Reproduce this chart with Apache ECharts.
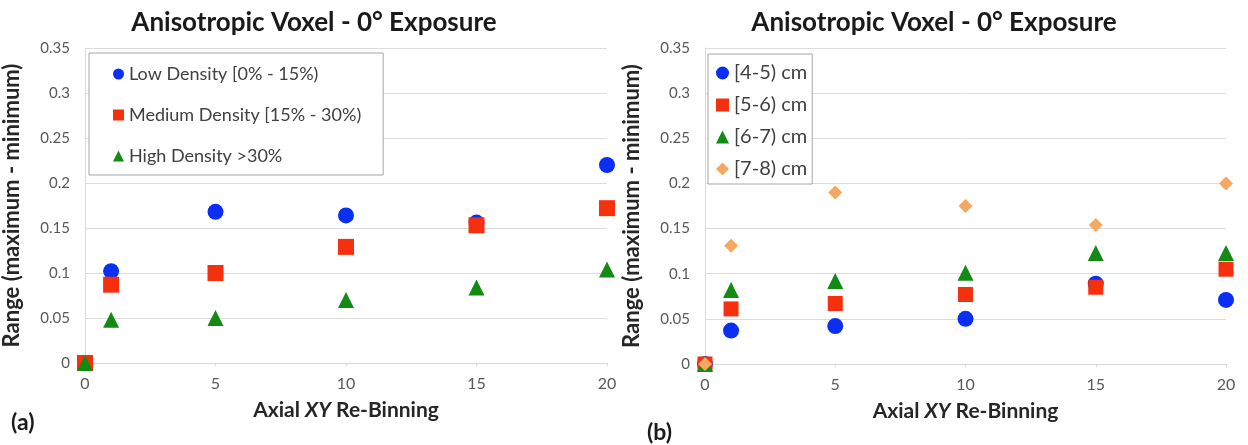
<!DOCTYPE html>
<html><head><meta charset="utf-8">
<script src="https://cdn.jsdelivr.net/npm/echarts@6/dist/echarts.min.js"></script>
<style>html,body{margin:0;padding:0;background:#fff}#c{width:1248px;height:445px}</style>
</head><body><div id="c"></div>
<script>
const xVals = [0, 1, 5, 10, 15, 20];
const lowDensity = [0, 0.102, 0.168, 0.164, 0.156, 0.220];
const medDensity = [0, 0.087, 0.100, 0.129, 0.153, 0.172];
const highDensity = [0, 0.048, 0.050, 0.070, 0.084, 0.104];
const size45 = [0, 0.037, 0.042, 0.050, 0.089, 0.071];
const size56 = [0, 0.061, 0.067, 0.077, 0.085, 0.105];
const size67 = [0, 0.082, 0.092, 0.101, 0.123, 0.123];
const size78 = [0, 0.131, 0.190, 0.175, 0.154, 0.200];
const leftNames = ['Low Density [0% - 15%)', 'Medium Density [15% - 30%)', 'High Density >30%'];
const rightNames = ['[4-5) cm', '[5-6) cm', '[6-7) cm', '[7-8) cm'];
const titleText = 'Anisotropic Voxel - 0° Exposure';

const FONT = 'Lato, "Open Sans", sans-serif';
const BLUE = '#0b2ff2', RED = '#f5300f', GREEN = '#138a14', ORANGE = '#f5a862';
const pair = ys => xVals.map((x, i) => [x, ys[i]]);

function xAxis(gi) {
  return {
    type: 'value', gridIndex: gi, min: 0, max: 20, interval: 5,
    name: '{b|Axial }{i|XY}{b| Re-Binning}', nameLocation: 'middle', nameGap: 37,
    nameTextStyle: { rich: {
      b: { fontFamily: FONT, fontWeight: 'bold', fontSize: 21, color: '#262626' },
      i: { fontFamily: FONT, fontWeight: 'bold', fontStyle: 'italic', fontSize: 21, color: '#262626' } } },
    axisLine: { show: true, onZero: false, lineStyle: { color: '#d9d9d9' } },
    axisTick: { show: true, length: 3, lineStyle: { color: '#d9d9d9' } },
    axisLabel: { fontFamily: FONT, fontSize: 16, color: '#595959', margin: 13 },
    splitLine: { show: false }
  };
}
function yAxis(gi) {
  return {
    type: 'value', gridIndex: gi, min: 0, max: 0.35, interval: 0.05,
    name: 'Range (maximum - minimum)', nameLocation: 'middle', nameGap: 62,
    nameTextStyle: { fontFamily: FONT, fontWeight: 'bold', fontSize: 22, color: '#262626' },
    axisLine: { show: true, lineStyle: { color: '#d9d9d9' } },
    axisTick: { show: false },
    axisLabel: { fontFamily: FONT, fontSize: 15, color: '#595959', margin: 15 },
    splitLine: { show: true, lineStyle: { color: '#dcdcdc' } }
  };
}
function sc(name, gi, data, symbol, color, size) {
  return { name, type: 'scatter', xAxisIndex: gi, yAxisIndex: gi, data: pair(data),
    symbol, symbolSize: size, itemStyle: { color, opacity: 1 }, emphasis: { disabled: true } };
}

const chart = echarts.init(document.getElementById('c'), null, { renderer: 'canvas' });
chart.setOption({
  animation: false,
  title: [
    { text: titleText, left: 309, top: 5, textAlign: 'center',
      textStyle: { fontFamily: FONT, fontWeight: 'bold', fontSize: 26, color: '#1a1a1a' } },
    { text: titleText, left: 929, top: 5, textAlign: 'center',
      textStyle: { fontFamily: FONT, fontWeight: 'bold', fontSize: 26, color: '#1a1a1a' } },
    { text: '(a)', left: 6, top: 406, textStyle: { fontFamily: FONT, fontWeight: 'bold', fontSize: 23, color: '#1a1a1a' } },
    { text: '(b)', left: 642, top: 416, textStyle: { fontFamily: FONT, fontWeight: 'bold', fontSize: 23, color: '#1a1a1a' } }
  ],
  grid: [
    { left: 84, top: 48, width: 523, height: 315 },
    { left: 705, top: 48, width: 521, height: 316 }
  ],
  xAxis: [xAxis(0), xAxis(1)],
  yAxis: [yAxis(0), yAxis(1)],
  legend: [
    { data: leftNames.map((n, i) => ({ name: n, icon: ['circle', 'rect', 'triangle'][i] })),
      orient: 'vertical', left: 89, top: 53,
      padding: [12, 22, 10, 24], itemGap: 23, itemWidth: 11, itemHeight: 11,
      backgroundColor: '#fff', borderColor: '#a6a6a6', borderWidth: 1, borderRadius: 0,
      textStyle: { fontFamily: FONT, fontSize: 18, color: '#404040' } },
    { data: rightNames.map((n, i) => ({ name: n, icon: ['circle', 'rect', 'triangle', 'diamond'][i] })),
      orient: 'vertical', left: 708, top: 54,
      padding: [9, 5, 5, 8], itemGap: 12, itemWidth: 13, itemHeight: 13,
      backgroundColor: '#fff', borderColor: '#a6a6a6', borderWidth: 1, borderRadius: 0,
      textStyle: { fontFamily: FONT, fontSize: 20, color: '#404040' } }
  ],
  series: [
    sc(leftNames[0], 0, lowDensity, 'circle', BLUE, 16),
    sc(leftNames[1], 0, medDensity, 'rect', RED, 16),
    sc(leftNames[2], 0, highDensity, 'triangle', GREEN, 16),
    sc(rightNames[0], 1, size45, 'circle', BLUE, 16),
    sc(rightNames[1], 1, size56, 'rect', RED, 15),
    sc(rightNames[2], 1, size67, 'triangle', GREEN, 16),
    sc(rightNames[3], 1, size78, 'diamond', ORANGE, 14)
  ]
});
</script></body></html>
